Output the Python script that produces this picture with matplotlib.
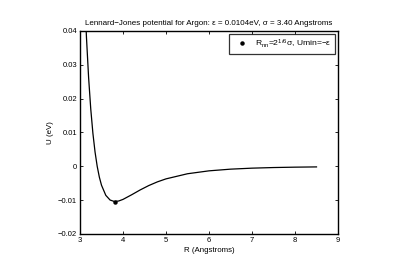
import matplotlib
matplotlib.use("Agg")
import matplotlib.pyplot as plt
from matplotlib.ticker import FuncFormatter

plt.rcParams['font.family'] = ['Liberation Sans', 'DejaVu Sans']
plt.rcParams['mathtext.fontset'] = 'custom'
plt.rcParams['mathtext.rm'] = 'Liberation Sans'
plt.rcParams['mathtext.it'] = 'Liberation Sans'

# Curve
R = [3.1, 3.15, 3.2, 3.25, 3.3, 3.35, 3.4, 3.45, 3.5, 3.6, 3.7, 3.8, 3.9, 4.0,
     4.2, 4.4, 4.6, 4.8, 5.0, 5.5, 6.0, 6.5, 7.0, 7.5, 8.0, 8.5]
U = [0.0537, 0.0382, 0.02626, 0.01696, 0.009761, 0.004227, 0.0, -0.003196,
     -0.005581, -0.008572, -0.009966, -0.010393, -0.010245, -0.009772,
     -0.008413, -0.006971, -0.005677, -0.004590, -0.003706, -0.002192,
     -0.001332, -0.000835, -0.000539, -0.000358, -0.000244, -0.000170]
Rnn = [3.816]
Umin = [-0.0104]
xticks = [3, 4, 5, 6, 7, 8, 9]
yticks = [-0.02, -0.01, 0, 0.01, 0.02, 0.03, 0.04]

fig = plt.figure(figsize=(3.99, 2.68), dpi=100)
ax = fig.add_axes([80/399, 1-234/268, (338-80)/399, (234-31)/268])
ax.plot(R, U, color='black', lw=0.9)
ax.plot(Rnn, Umin, 'o', color='black', ms=2.2,
        label=r'R$_{\rm nn}$=2$^{1/6}$σ, Umin=−ε')
ax.set_xlim(3, 9)
ax.set_ylim(-0.02, 0.04)
ax.set_xticks(xticks)
ax.set_yticks(yticks)
ax.yaxis.set_major_formatter(FuncFormatter(lambda v, p: ('%g' % round(v, 4)).replace('-', '−')))
ax.tick_params(direction='in', top=True, right=True, labelsize=5.5, length=2.5, width=0.6, pad=2)
for s in ax.spines.values():
    s.set_linewidth(1.0)
ax.set_xlabel('R (Angstroms)', fontsize=5.7, labelpad=2.5)
ax.set_ylabel('U (eV)', fontsize=5.7, labelpad=3)
ax.set_title('Lennard−Jones potential for Argon: ε = 0.0104eV, σ = 3.40 Angstroms', fontsize=5.75, pad=4)
leg = ax.legend(loc='upper right', fontsize=6.1, frameon=True, fancybox=False,
                edgecolor='black', borderaxespad=0.3, handlelength=2.0, borderpad=0.45,
                handletextpad=0.6)
leg.get_frame().set_linewidth(0.9)
fig.savefig('out.png', dpi=100)
